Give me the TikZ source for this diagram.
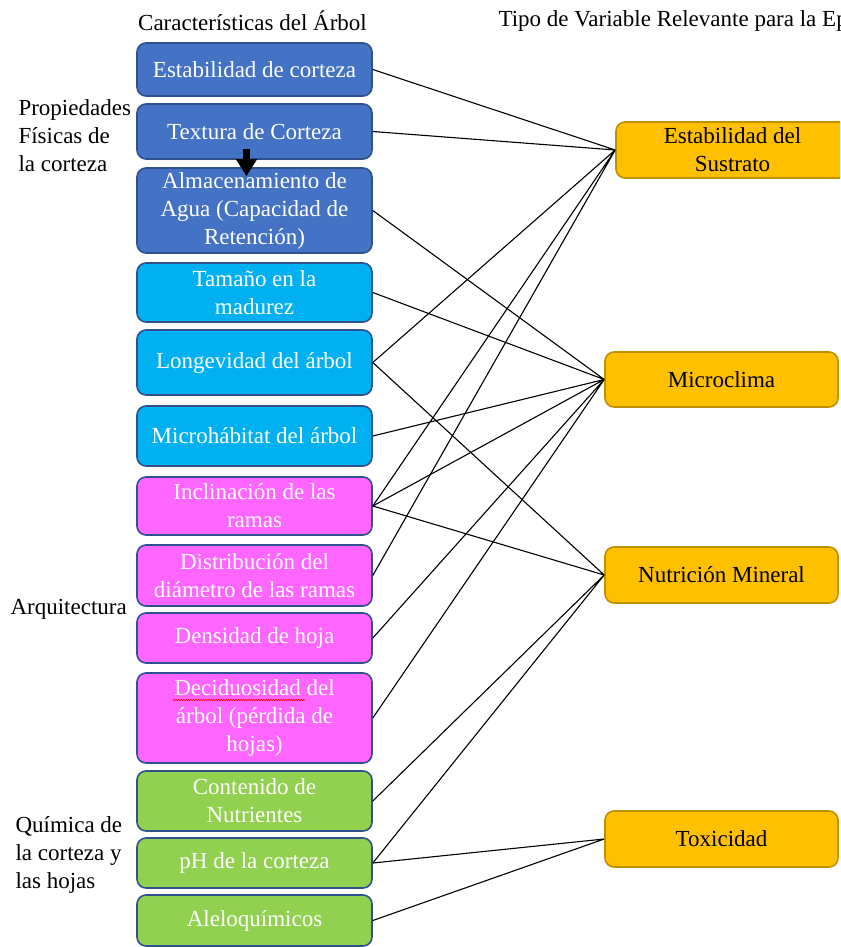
\documentclass[tikz,border=0pt]{standalone}
\usepackage{fontspec}
\setmainfont{Liberation Serif}
\usetikzlibrary{arrows.meta, decorations.pathmorphing}
\definecolor{barkblue}{RGB}{68, 114, 196}
\definecolor{skyblue}{RGB}{0, 176, 240}
\definecolor{pinkbox}{RGB}{255, 102, 255}
\definecolor{leafgreen}{RGB}{146, 208, 80}
\definecolor{ambar}{RGB}{255, 192, 0}
\definecolor{rimblue}{RGB}{47, 82, 143}
\definecolor{rimambar}{RGB}{191, 144, 0}

\begin{document}
\begin{tikzpicture}[x=1pt, y=-1pt, font=\fontsize{23}{28}\selectfont,
  trait/.style={draw=rimblue, line width=1.6pt, rounded corners=9pt, text=white,
    minimum width=235pt, inner sep=0pt, align=center},
  target/.style={draw=rimambar, fill=ambar, line width=1.6pt, rounded corners=9pt,
    minimum width=233pt, minimum height=56pt, inner sep=0pt, align=center},
  link/.style={line width=1.1pt}]
  \useasboundingbox (0,0) rectangle (840,947);
  \clip (0,0) rectangle (840,947);
  % headers
  \node (headtree) at (252.5,21) {Características del Árbol};
  \node[anchor=west] (headvar) at (495,21) {Tipo de Variable Relevante para la Ep};
  % group labels
  \node[anchor=west, align=left] (fisica) at (15,136) {Propiedades\\Físicas de\\la corteza};
  \node[anchor=west] (arqui) at (7,609) {Arquitectura};
  \node[anchor=west, align=left] (quimica) at (12,855) {Química de\\la corteza y\\las hojas};
  % tree traits
  \node[trait, fill=barkblue, minimum height=53pt] (est) at (254.5,69.5) {Estabilidad de corteza};
  \node[trait, fill=barkblue, minimum height=55pt] (tex) at (254.5,131.5) {Textura de Corteza};
  \node[trait, fill=barkblue, minimum height=85pt] (alm) at (254.5,210.5) {Almacenamiento de\\Agua (Capacidad de\\Retención)};
  \node[trait, fill=skyblue, minimum height=59pt] (tam) at (254.5,292.5) {Tamaño en la\\madurez};
  \node[trait, fill=skyblue, minimum height=65pt] (lon) at (254.5,362.5) {Longevidad del árbol};
  \node[trait, fill=skyblue, minimum height=60pt] (mch) at (254.5,436) {Microhábitat del árbol};
  \node[trait, fill=pinkbox, minimum height=58pt] (inc) at (254.5,506) {Inclinación de las\\ramas};
  \node[trait, fill=pinkbox, minimum height=61pt] (dis) at (254.5,575.5) {Distribución del\\diámetro de las ramas};
  \node[trait, fill=pinkbox, minimum height=50pt] (den) at (254.5,638) {Densidad de hoja};
  \node[trait, fill=pinkbox, minimum height=90pt] (dec) at (254.5,718) {Deciduosidad del\\árbol (pérdida de\\hojas)};
  \node[trait, fill=leafgreen, minimum height=60pt] (con) at (254.5,801) {Contenido de\\Nutrientes};
  \node[trait, fill=leafgreen, minimum height=50pt] (ph) at (254.5,863) {pH de la corteza};
  \node[trait, fill=leafgreen, minimum height=51pt] (ale) at (254.5,920.5) {Aleloquímicos};
  % variable types
  \node[target] (sus) at (732.5,150) {Estabilidad del\\Sustrato};
  \node[target, minimum height=55pt] (mcl) at (721.5,379.5) {Microclima};
  \node[target] (nut) at (721.5,575) {Nutrición Mineral};
  \node[target] (tox) at (721.5,839) {Toxicidad};
  % spell-check mark
  \draw[red, line width=0.6pt, decorate, decoration={zigzag, amplitude=0.8pt, segment length=2.5pt}]
    (173,700) -- (305,700);
  \draw[line width=7pt, -{Triangle[width=20pt, length=17pt]}]
    ([xshift=-8pt, yshift=11pt]tex.south) -- ([xshift=-8pt, yshift=-9pt]alm.north);
  % links
  \draw[link] (est.east) -- (sus.west) (tex.east) -- (sus.west) (lon.east) -- (sus.west)
    (inc.east) -- (sus.west) (dis.east) -- (sus.west);
  \draw[link] (alm.east) -- (mcl.west) (tam.east) -- (mcl.west) (mch.east) -- (mcl.west)
    (inc.east) -- (mcl.west) (den.east) -- (mcl.west) (dec.east) -- (mcl.west);
  \draw[link] (lon.east) -- (nut.west) (inc.east) -- (nut.west) (con.east) -- (nut.west)
    (ph.east) -- (nut.west);
  \draw[link] (ph.east) -- (tox.west) (ale.east) -- (tox.west);
\end{tikzpicture}
\end{document}
